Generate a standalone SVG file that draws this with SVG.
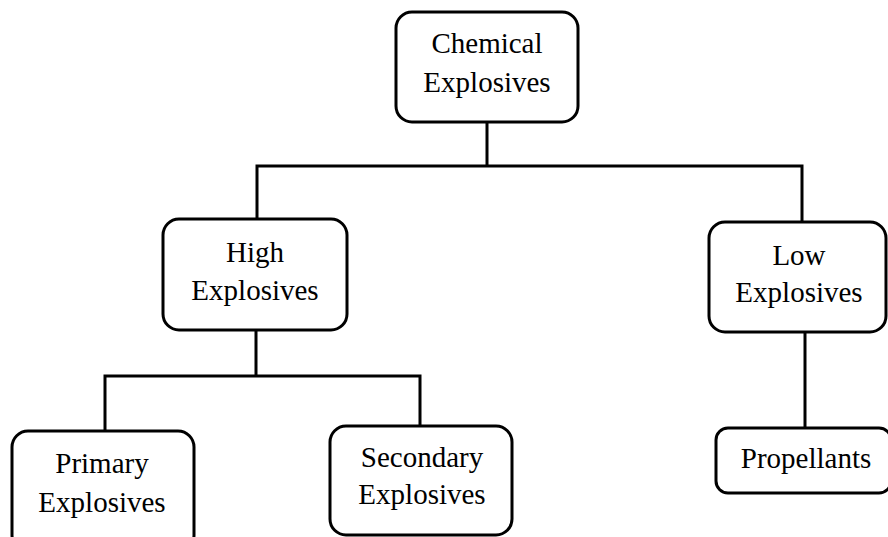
<svg xmlns="http://www.w3.org/2000/svg" width="888" height="537" viewBox="0 0 888 537">
<style>
.box{fill:#fff;stroke:#000;stroke-width:3}
.ln{fill:none;stroke:#000;stroke-width:3}
text{font-family:"Liberation Serif","Times New Roman",serif;font-size:29px;fill:#000;text-anchor:middle}
</style>
<rect width="888" height="537" fill="#fff"/>
<g id="connectors">
<path class="ln" d="M487,122 V166 M257,219 V166 H802 V222"/>
<path class="ln" d="M256,330 V376 M105,431 V376 H420 V426"/>
<path class="ln" d="M805,332 V428"/>
</g>
<g id="chemical">
<rect class="box" x="396" y="12" width="182" height="110" rx="16"/>
<text x="487" y="53">Chemical</text>
<text x="487" y="92">Explosives</text>
</g>
<g id="high">
<rect class="box" x="163" y="219" width="184" height="111" rx="16"/>
<text x="255" y="262">High</text>
<text x="255" y="300">Explosives</text>
</g>
<g id="low">
<rect class="box" x="709" y="222" width="177" height="110" rx="16"/>
<text x="799" y="265">Low</text>
<text x="799" y="302">Explosives</text>
</g>
<g id="primary">
<rect class="box" x="12" y="431" width="182" height="120" rx="16"/>
<text x="102" y="473">Primary</text>
<text x="102" y="512">Explosives</text>
</g>
<g id="secondary">
<rect class="box" x="330" y="426" width="182" height="109" rx="16"/>
<text x="422" y="467">Secondary</text>
<text x="422" y="504">Explosives</text>
</g>
<g id="propellants">
<rect class="box" x="716" y="428" width="175" height="65" rx="12"/>
<text x="806" y="468">Propellants</text>
</g>
</svg>
